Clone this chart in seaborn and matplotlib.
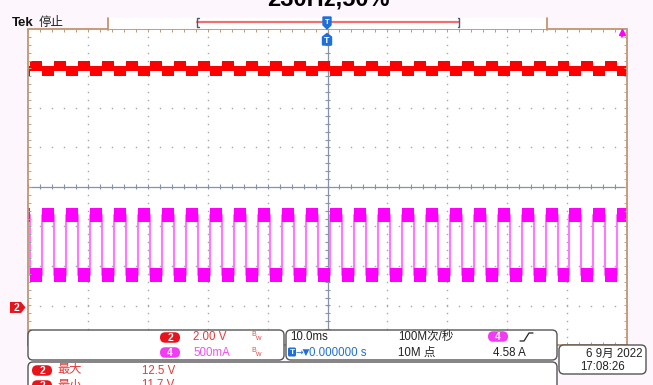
import numpy as np
import pandas as pd
import matplotlib
matplotlib.use("Agg")
import matplotlib.pyplot as plt
import seaborn as sns
from matplotlib.patches import FancyBboxPatch, Rectangle, Polygon

# ---------------- acquisition settings ----------------
time_per_div_ms = 10.0
ch2_volts_per_div = 2.00
ch2_position_div = -3.05
ch4_amps_per_div = 0.5
ch4_position_div = -4.6

# current (ch4) edge times in ms, relative to trigger
ch4_fall_ms = [-49.6, -45.6, -41.6, -37.6, -33.6, -29.6, -25.6, -21.6, -17.6,
               -13.6, -9.6, -5.6, -1.6, 2.4, 6.4, 10.4, 14.4, 18.4, 22.4,
               26.4, 30.4, 34.4, 38.4, 42.4, 46.4]
ch4_rise_ms = [-47.6, -43.6, -39.6, -35.6, -31.6, -27.6, -23.6, -19.6, -15.6,
               -11.6, -7.6, -3.6, 0.4, 4.4, 8.4, 12.4, 16.4, 20.4, 24.4,
               28.4, 32.4, 36.4, 40.4, 44.4, 48.4]

# trace envelopes (top, bottom) for each level
ch4_high_band_a = [2.04, 1.86]
ch4_low_band_a = [1.27, 1.10]
ch2_band_when_current_low_v = [12.50, 11.97]
ch2_band_when_current_high_v = [12.24, 11.70]

# readouts
ch2_scale_label = "2.00 V"
ch4_scale_label = "500mA"
timebase_label = "10.0ms"
sample_rate_label = "100M次/秒"
record_label = "10M 点"
trigger_level_label = "4.58 A"
trigger_pos_label = "0.000000 s"
date_label = "6 9月 2022"
time_label = "17:08:26"
meas_max_label = ("最大", "12.5 V")
meas_min_label = ("最小", "11.7 V")
title_label = "230Hz,50%"

# ---------------- colours ----------------
BG = "#fdf6fd"
RED = "#ff0000"
MAG = "#ff00ff"
MAG_EDGE = "#ff78ff"
BROWN = "#c4946e"
AXIS = "#8592aa"
DOT = "#a8a8a8"
BLUE = "#1f6fd8"
BADGE_RED = "#e8141c"
BADGE_MAG = "#f23cf2"

sns.set_style("white")
plt.rcParams["font.family"] = ["Liberation Sans", "Noto Sans CJK SC", "DejaVu Sans"]

W, H = 653, 385
fig = plt.figure(figsize=(W / 100, H / 100), dpi=100, facecolor=BG)

# screen area in pixels
SX0, SX1, SY0, SY1 = 28, 627, 29, 345
ax = fig.add_axes([SX0 / W, 1 - SY1 / H, (SX1 - SX0) / W, (SY1 - SY0) / H])
ax.set_facecolor("white")
for s in ax.spines.values():
    s.set_visible(False)
ax.set_xticks([])
ax.set_yticks([])
XMIN, XMAX = -5 * time_per_div_ms, 5 * time_per_div_ms
ax.set_xlim(XMIN, XMAX)
ax.set_ylim(-4, 4)
px_x = (XMAX - XMIN) / (SX1 - SX0)   # ms per pixel
px_y = 8 / (SY1 - SY0)               # div per pixel

# ---------------- graticule ----------------
minor_x = np.arange(XMIN, XMAX + 0.01, time_per_div_ms / 5)
minor_y = np.arange(-4, 4.01, 0.2)
for gx in np.arange(-40, 41, 10):
    if gx == 0:
        continue
    ax.plot(np.full_like(minor_y, gx), minor_y, ls="none", marker="s",
            ms=1.0, mec="none", mfc=DOT, zorder=1)
for gy in range(-3, 4):
    if gy == 0:
        continue
    ax.plot(minor_x, np.full_like(minor_x, gy), ls="none", marker="s",
            ms=1.0, mec="none", mfc=DOT, zorder=1)

ax.axvline(0, color=AXIS, lw=0.9, zorder=1)
ax.axhline(0, color=AXIS, lw=0.9, zorder=1)
ax.vlines(minor_x, -2.5 * px_y, 2.5 * px_y, color=AXIS, lw=0.8, zorder=1)
ax.hlines(minor_y, -2.5 * px_x, 2.5 * px_x, color=AXIS, lw=0.8, zorder=1)

# border with inward ticks
kw = dict(color=BROWN, lw=1.3, clip_on=False, zorder=5)
ax.plot([XMIN, XMIN], [-4, 4], **kw)
ax.plot([XMAX, XMAX], [-4, 4], **kw)
ax.plot([XMIN, XMAX], [4, 4], **kw)
ax.plot([XMIN, XMAX], [-4, -4], **kw)
ax.vlines(minor_x, 4 - 3 * px_y, 4, color=BROWN, lw=0.7, zorder=5)
ax.vlines(minor_x, -4, -4 + 3 * px_y, color=BROWN, lw=0.7, zorder=5)
ax.hlines(minor_y, XMIN, XMIN + 3 * px_x, color=DOT, lw=0.7, zorder=5)
ax.hlines(minor_y, XMAX - 3 * px_x, XMAX, color=DOT, lw=0.7, zorder=5)

# ---------------- waveforms ----------------
events = sorted([(t, "low") for t in ch4_fall_ms] + [(t, "high") for t in ch4_rise_ms])
seg_x = [XMIN] + [t for t, _ in events] + [XMAX]
seg_state = ["high"] + [s for _, s in events]
seg_state = seg_state + [seg_state[-1]]


def to_div(v, scale, pos):
    return np.asarray(v, dtype=float) / scale + pos


c4_top = [ch4_high_band_a[0] if s == "high" else ch4_low_band_a[0] for s in seg_state]
c4_bot = [ch4_high_band_a[1] if s == "high" else ch4_low_band_a[1] for s in seg_state]
c2_top = [ch2_band_when_current_high_v[0] if s == "high" else ch2_band_when_current_low_v[0] for s in seg_state]
c2_bot = [ch2_band_when_current_high_v[1] if s == "high" else ch2_band_when_current_low_v[1] for s in seg_state]

c4_top_d = to_div(c4_top, ch4_amps_per_div, ch4_position_div)
c4_bot_d = to_div(c4_bot, ch4_amps_per_div, ch4_position_div)
c2_top_d = to_div(c2_top, ch2_volts_per_div, ch2_position_div)
c2_bot_d = to_div(c2_bot, ch2_volts_per_div, ch2_position_div)

# thin transition lines of the current trace
mid = (c4_top_d + c4_bot_d) / 2
ex, ey = [], []
for i in range(len(seg_x) - 1):
    ex += [seg_x[i], seg_x[i + 1]]
    ey += [mid[i], mid[i]]
edge_df = pd.DataFrame({"t": ex, "i": ey})
sns.lineplot(data=edge_df, x="t", y="i", sort=False, estimator=None,
             color=MAG_EDGE, lw=1.5, ax=ax, zorder=3)
ax.fill_between(seg_x, c4_bot_d, c4_top_d, step="post", color=MAG, lw=0, zorder=4)
ax.fill_between(seg_x, c2_bot_d, c2_top_d, step="post", color=RED, lw=0, zorder=4)
ax.set_xlim(XMIN, XMAX)
ax.set_ylim(-4, 4)
ax.set_xlabel("")
ax.set_ylabel("")

# ---------------- overlay in pixel space ----------------
ov = fig.add_axes([0, 0, 1, 1], facecolor="none")
ov.set_xlim(0, W)
ov.set_ylim(H, 0)
ov.set_axis_off()


def box(x0, y0, x1, y1, r=5, fc="white", ec="#555555", lw=1.0):
    ov.add_patch(FancyBboxPatch((x0, y0), x1 - x0, y1 - y0,
                                boxstyle=f"round,pad=0,rounding_size={r}",
                                fc=fc, ec=ec, lw=lw, alpha=None, zorder=6,
                                clip_on=False))


def badge(cx, cy, txt, color, w=20, h=10.5):
    ov.add_patch(FancyBboxPatch((cx - w / 2, cy - h / 2), w, h,
                                boxstyle=f"round,pad=0,rounding_size={h / 2}",
                                fc=color, ec="none", zorder=8, clip_on=False))
    ov.text(cx, cy + 0.3, txt, color="white", fontsize=7.5, fontweight="bold",
            ha="center", va="center", zorder=9)


def label(x, y, txt, color="#222222", size=8.3, ha="left", **kw):
    ov.text(x, y, txt, color=color, fontsize=size, ha=ha, va="center",
            zorder=9, **kw)


# title (clipped by the top edge)
ov.text(328, 5.5, title_label, fontsize=17, fontweight="bold", ha="center",
        va="baseline", color="black", zorder=9)

# header
ov.text(12, 23, "Tek", fontsize=9.5, fontweight="bold", va="center", color="#111111")
ov.text(39, 23, "停止", fontsize=9, va="center", color="#222222")

# record view bar
ov.add_patch(Rectangle((108, 18), 547 - 108, 11, fc="white", ec="none", zorder=2))
ov.plot([108, 108], [18, 29.5], color=BROWN, lw=1.3, zorder=3)
ov.plot([547, 547], [18, 29.5], color=BROWN, lw=1.3, zorder=3)
ov.plot([197, 459], [22, 22], color="#f07070", lw=1.6, zorder=3)
ov.plot([198.5, 197, 197, 198.5], [18, 18, 27, 27], color="#4a5a7a", lw=1.0, zorder=3)
ov.plot([457.5, 459, 459, 457.5], [18, 18, 27, 27], color="#4a5a7a", lw=1.0, zorder=3)

# trigger position markers
ov.add_patch(Polygon([(323, 17), (331, 17), (331, 25), (327, 29), (323, 25)],
                     closed=True, fc=BLUE, ec=BLUE, lw=1, zorder=8))
ov.text(327, 22, "T", color="white", fontsize=5.5, fontweight="bold",
        ha="center", va="center", zorder=9)
ov.add_patch(Polygon([(322.5, 37), (327, 33.5), (331.5, 37), (331.5, 45), (322.5, 45)],
                     closed=True, fc=BLUE, ec=BLUE, lw=1, zorder=8))
ov.text(327, 40.5, "T", color="white", fontsize=6.5, fontweight="bold",
        ha="center", va="center", zorder=9)

# trigger level indicator (off-screen, above)
ov.plot([622, 622], [32, 37], color=MAG, lw=1.2, zorder=8)
ov.plot([622], [31.5], marker="^", ms=5, color=MAG, zorder=8)

# channel 2 ground marker, placed from the channel position
gy = SY0 + (4 - ch2_position_div) / px_y
ov.add_patch(Polygon([(10, gy - 5.5), (21, gy - 5.5), (25.5, gy), (21, gy + 5.5), (10, gy + 5.5)],
                     closed=True, fc=BADGE_RED, ec="none", zorder=8))
ov.text(16.5, gy + 0.3, "2", color="white", fontsize=7.5, fontweight="bold",
        ha="center", va="center", zorder=9)

# channel readout box
box(28, 330, 284, 360)
badge(170, 337.5, "2", BADGE_RED)
label(193, 337.5, ch2_scale_label, color="#e43a3a")
label(251, 335, "B", color="#e05050", size=5)
label(255, 339, "w", color="#e05050", size=5.5)
badge(170, 352.5, "4", BADGE_MAG)
label(193, 352.5, ch4_scale_label, color="#f050f0")
label(251, 350, "B", color="#e05050", size=5)
label(255, 354, "w", color="#e05050", size=5.5)

# horizontal / trigger box
box(286, 330, 557, 360)
label(290, 337.5, timebase_label)
label(398, 337, sample_rate_label)
badge(498, 336.5, "4", BADGE_MAG)
ov.plot([520, 524, 529, 533], [341, 341, 333, 333], color="#222222", lw=0.9, zorder=9)
ov.add_patch(FancyBboxPatch((288, 347.5), 8, 9, boxstyle="round,pad=0,rounding_size=1.5",
                            fc=BLUE, ec="none", zorder=8))
ov.text(292, 352.3, "T", color="white", fontsize=6, fontweight="bold",
        ha="center", va="center", zorder=9)
label(296, 352, "→▼", color=BLUE, size=6.5, family=["DejaVu Sans"])
label(309, 352.5, trigger_pos_label, color=BLUE)
label(398, 352.5, record_label)
label(493, 352.5, trigger_level_label)

# date box
box(559, 345, 646, 374)
label(643, 353.5, date_label, ha="right")
label(603, 367.5, time_label, ha="center")

# measurement box
box(28, 362, 557, 400)
badge(42, 370.5, "2", BADGE_RED)
label(57, 370.5, meas_max_label[0], color="#e43a3a", size=8.8)
label(142, 370.5, meas_max_label[1], color="#e43a3a")
badge(42, 385.5, "2", BADGE_RED)
label(57, 385.5, meas_min_label[0], color="#e43a3a", size=8.8)
label(142, 385.5, meas_min_label[1], color="#e43a3a")

fig.savefig("out.png", dpi=100, facecolor=BG)
